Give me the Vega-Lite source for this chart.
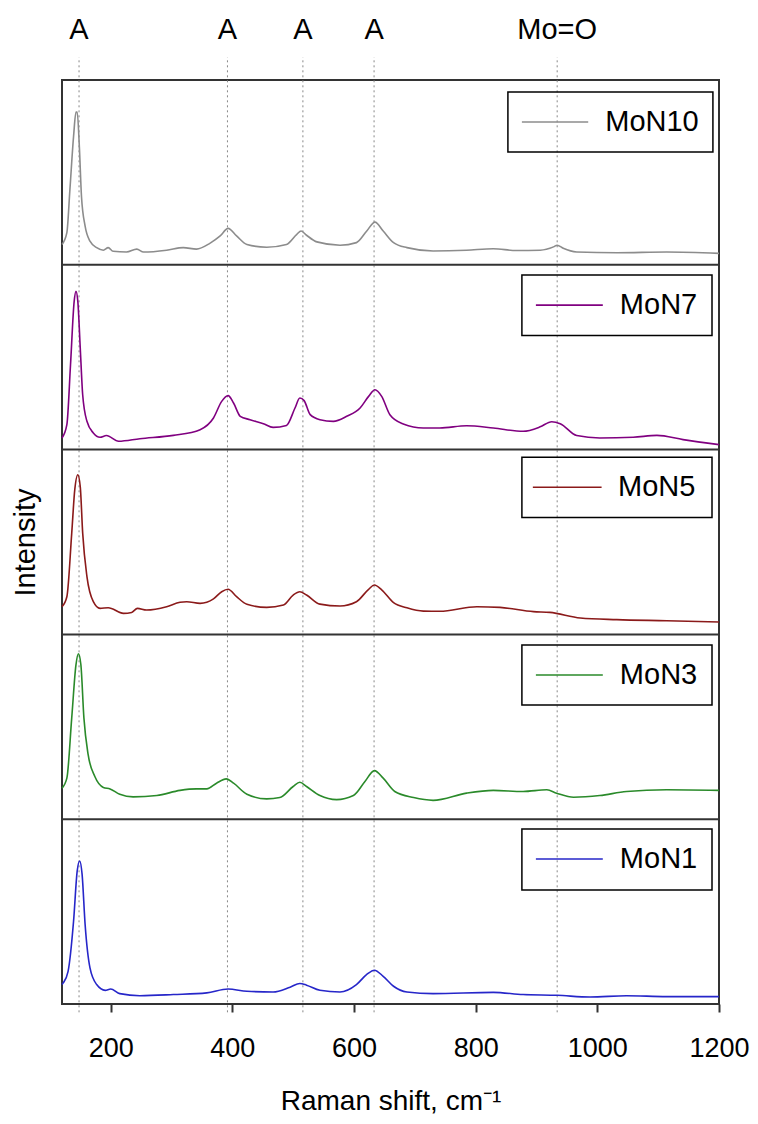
{
  "$schema": "https://vega.github.io/schema/vega-lite/v6.json",
  "width": 657,
  "height": 924,
  "autosize": {"type": "none"},
  "padding": {"left": 62, "top": 80, "right": 39, "bottom": 120},
  "background": "white",
  "config": {
    "font": "Liberation Sans",
    "view": {"stroke": "#333333", "strokeWidth": 2},
    "axis": {"grid": false}
  },
  "datasets": {
    "MoN10": [
      {"x": 120, "y": 11.0}, {"x": 128, "y": 17.4}, {"x": 133, "y": 40.7}, {"x": 139, "y": 69.4},
      {"x": 143, "y": 82.6}, {"x": 145, "y": 82.6}, {"x": 148.5, "y": 64}, {"x": 152, "y": 37.1},
      {"x": 158, "y": 20.9}, {"x": 166, "y": 12.8}, {"x": 177, "y": 9.3}, {"x": 188, "y": 7.9},
      {"x": 196, "y": 9.3}, {"x": 204, "y": 7.3}, {"x": 226, "y": 6.9}, {"x": 243, "y": 8.5},
      {"x": 254, "y": 6.9}, {"x": 292, "y": 7.9}, {"x": 319.5, "y": 9.3}, {"x": 341, "y": 8.5},
      {"x": 363, "y": 11.6}, {"x": 380, "y": 15.6}, {"x": 393, "y": 19.7}, {"x": 407, "y": 15.6},
      {"x": 424, "y": 11.0}, {"x": 456.5, "y": 9.5}, {"x": 489, "y": 11.0}, {"x": 506, "y": 16.5},
      {"x": 513, "y": 18.3}, {"x": 522, "y": 16.0}, {"x": 539, "y": 12.4}, {"x": 577, "y": 10.6},
      {"x": 604, "y": 12.0}, {"x": 621, "y": 18.3}, {"x": 634.5, "y": 23.1}, {"x": 648, "y": 18.3},
      {"x": 665, "y": 12.0}, {"x": 687, "y": 9.3}, {"x": 730, "y": 7.5}, {"x": 785, "y": 7.9},
      {"x": 829, "y": 8.7}, {"x": 867, "y": 7.7}, {"x": 906, "y": 7.9}, {"x": 928, "y": 9.7},
      {"x": 934, "y": 10.6}, {"x": 944, "y": 8.9}, {"x": 966, "y": 6.9}, {"x": 1032, "y": 6.5},
      {"x": 1114, "y": 6.9}, {"x": 1200, "y": 6.2}
    ],
    "MoN7": [
      {"x": 120, "y": 6.3}, {"x": 128, "y": 13.5}, {"x": 134, "y": 45.9}, {"x": 140, "y": 80.2},
      {"x": 143, "y": 85.6}, {"x": 146, "y": 80.2}, {"x": 150, "y": 55.0}, {"x": 154, "y": 29.7},
      {"x": 161, "y": 15.3}, {"x": 171.5, "y": 9.0}, {"x": 182.5, "y": 6.7}, {"x": 193, "y": 7.6},
      {"x": 213, "y": 4.5}, {"x": 248, "y": 5.9}, {"x": 303, "y": 7.7}, {"x": 347, "y": 10.8},
      {"x": 369, "y": 17.1}, {"x": 382.5, "y": 26.1}, {"x": 393, "y": 29.2}, {"x": 402, "y": 25.2},
      {"x": 413, "y": 18.0}, {"x": 429, "y": 16.2}, {"x": 451, "y": 14.0}, {"x": 467, "y": 12.0},
      {"x": 489, "y": 13.1}, {"x": 503, "y": 22.5}, {"x": 511, "y": 27.9}, {"x": 518, "y": 26.5},
      {"x": 528, "y": 18.9}, {"x": 544, "y": 16.2}, {"x": 566, "y": 15.3}, {"x": 588, "y": 18.0},
      {"x": 610, "y": 22.5}, {"x": 624, "y": 28.8}, {"x": 634.5, "y": 32.4}, {"x": 645.5, "y": 28.8},
      {"x": 659, "y": 18.9}, {"x": 681, "y": 13.9}, {"x": 714, "y": 11.7}, {"x": 741, "y": 11.7},
      {"x": 785, "y": 12.9}, {"x": 829, "y": 11.7}, {"x": 878, "y": 9.9}, {"x": 906, "y": 12.3},
      {"x": 925, "y": 15.1}, {"x": 939, "y": 14.0}, {"x": 966, "y": 7.6}, {"x": 1004, "y": 6.3},
      {"x": 1059, "y": 6.7}, {"x": 1098, "y": 7.7}, {"x": 1141, "y": 5.4}, {"x": 1200, "y": 2.7}
    ],
    "MoN5": [
      {"x": 120, "y": 15.0}, {"x": 128, "y": 20.4}, {"x": 136, "y": 54.8}, {"x": 141, "y": 78.3},
      {"x": 146, "y": 86.4}, {"x": 150, "y": 80.0}, {"x": 154, "y": 54.8}, {"x": 161, "y": 31.3},
      {"x": 171.5, "y": 17.7}, {"x": 182.5, "y": 14.1}, {"x": 196, "y": 14.4}, {"x": 221, "y": 11.4},
      {"x": 234.5, "y": 11.9}, {"x": 244, "y": 14.1}, {"x": 259, "y": 13.2}, {"x": 292, "y": 15.0},
      {"x": 314, "y": 17.4}, {"x": 325, "y": 17.7}, {"x": 347, "y": 16.8}, {"x": 369, "y": 19.2},
      {"x": 382.5, "y": 23.1}, {"x": 393, "y": 24.4}, {"x": 407, "y": 20.4}, {"x": 424, "y": 16.3},
      {"x": 456.5, "y": 14.6}, {"x": 484, "y": 15.9}, {"x": 500, "y": 21.3}, {"x": 511, "y": 23.1},
      {"x": 522, "y": 21.3}, {"x": 544, "y": 16.4}, {"x": 577, "y": 15.4}, {"x": 604, "y": 17.7},
      {"x": 624, "y": 24.4}, {"x": 633.5, "y": 26.7}, {"x": 645.5, "y": 24.1}, {"x": 665, "y": 17.2},
      {"x": 687, "y": 14.4}, {"x": 714, "y": 12.6}, {"x": 741, "y": 12.5}, {"x": 802, "y": 15.0},
      {"x": 840, "y": 14.6}, {"x": 895, "y": 12.3}, {"x": 922, "y": 11.9}, {"x": 972, "y": 8.9},
      {"x": 1032, "y": 8.0}, {"x": 1114, "y": 7.4}, {"x": 1200, "y": 6.7}
    ],
    "MoN3": [
      {"x": 120, "y": 16.8}, {"x": 128, "y": 22.2}, {"x": 136, "y": 54.8}, {"x": 143, "y": 83.7},
      {"x": 147, "y": 89.5}, {"x": 151, "y": 83.7}, {"x": 156, "y": 54.8}, {"x": 163, "y": 34.9},
      {"x": 174, "y": 23.1}, {"x": 188, "y": 17.2}, {"x": 199, "y": 16.4}, {"x": 215, "y": 13.5},
      {"x": 237, "y": 12.1}, {"x": 276, "y": 12.8}, {"x": 314, "y": 15.6}, {"x": 341, "y": 16.4},
      {"x": 358, "y": 16.4}, {"x": 374, "y": 19.5}, {"x": 390, "y": 21.8}, {"x": 402, "y": 19.5},
      {"x": 424, "y": 13.5}, {"x": 456.5, "y": 11.0}, {"x": 478, "y": 11.7}, {"x": 500, "y": 17.7},
      {"x": 511, "y": 20.0}, {"x": 522, "y": 17.7}, {"x": 544, "y": 12.8}, {"x": 571.5, "y": 10.6},
      {"x": 599, "y": 12.8}, {"x": 618, "y": 20.4}, {"x": 633.5, "y": 26.3}, {"x": 648, "y": 22.2},
      {"x": 667, "y": 15.0}, {"x": 698, "y": 11.7}, {"x": 730, "y": 10.2}, {"x": 785, "y": 14.1},
      {"x": 829, "y": 15.6}, {"x": 878, "y": 15.0}, {"x": 917, "y": 15.9}, {"x": 933, "y": 14.1},
      {"x": 961, "y": 11.9}, {"x": 1004, "y": 12.8}, {"x": 1048, "y": 15.0}, {"x": 1114, "y": 15.9},
      {"x": 1200, "y": 15.6}
    ],
    "MoN1": [
      {"x": 120, "y": 10.5}, {"x": 122, "y": 11.4}, {"x": 130, "y": 17.7}, {"x": 139, "y": 44.8},
      {"x": 145, "y": 72.0}, {"x": 149, "y": 77.4}, {"x": 153, "y": 70.3}, {"x": 158, "y": 43.0},
      {"x": 166, "y": 19.5}, {"x": 177, "y": 10.5}, {"x": 191, "y": 7.4}, {"x": 200, "y": 8.1},
      {"x": 215, "y": 5.6}, {"x": 248, "y": 4.5}, {"x": 303, "y": 5.1}, {"x": 358, "y": 6.0},
      {"x": 393, "y": 8.1}, {"x": 424, "y": 6.9}, {"x": 467, "y": 6.5}, {"x": 495, "y": 9.1},
      {"x": 511, "y": 11.1}, {"x": 522, "y": 10.2}, {"x": 544, "y": 7.4}, {"x": 577, "y": 6.5},
      {"x": 604, "y": 10.5}, {"x": 621, "y": 16.0}, {"x": 633.5, "y": 18.3}, {"x": 648, "y": 15.0},
      {"x": 665, "y": 9.6}, {"x": 687, "y": 6.5}, {"x": 730, "y": 5.6}, {"x": 829, "y": 6.3},
      {"x": 878, "y": 5.1}, {"x": 934, "y": 4.7}, {"x": 988, "y": 3.8}, {"x": 1048, "y": 4.5},
      {"x": 1114, "y": 4.0}, {"x": 1200, "y": 4.0}
    ],
    "peaks": [
      {"x": 148, "label": "A"}, {"x": 392, "label": "A"}, {"x": 516, "label": "A"},
      {"x": 633, "label": "A"}, {"x": 934, "label": "Mo=O"}
    ]
  },
  "layer": [
    {
      "data": {"name": "peaks"},
      "layer": [
        {
          "mark": {"type": "rule", "color": "#888888", "strokeWidth": 1, "strokeDash": [2, 3]},
          "encoding": {
            "x": {
              "field": "x", "type": "quantitative",
              "scale": {"domain": [120, 1200], "nice": false, "zero": false},
              "axis": {
                "values": [200, 400, 600, 800, 1000, 1200], "format": "d",
                "domain": false, "ticks": true, "tickSize": 8, "tickWidth": 2, "tickColor": "#333333",
                "labelFontSize": 27, "labelColor": "#000000", "labelPadding": 23,
                "labelFlush": false, "labelOverlap": false,
                "title": "Raman shift, cm⁻¹", "titleFontSize": 28, "titleFontWeight": "normal",
                "titleColor": "#000000", "titlePadding": 26
              }
            },
            "y": {
              "datum": -0.045,
              "scale": {"domain": [0, 5], "nice": false, "zero": false},
              "axis": {
                "title": "Intensity", "labels": false, "ticks": false, "domain": false, "grid": false,
                "titleFontSize": 29, "titleFontWeight": "normal", "titleColor": "#000000", "titlePadding": 22
              }
            },
            "y2": {"datum": 5.124}
          }
        },
        {
          "mark": {"type": "text", "fontSize": 29, "align": "center", "baseline": "middle", "color": "#000000"},
          "encoding": {
            "x": {"field": "x", "type": "quantitative"},
            "y": {"datum": 5.27},
            "text": {"field": "label"}
          }
        },
        {"data": {"values": [{}]}, "mark": {"type": "rule", "color": "#333333", "strokeWidth": 2}, "encoding": {"y": {"datum": 1}}},
        {"data": {"values": [{}]}, "mark": {"type": "rule", "color": "#333333", "strokeWidth": 2}, "encoding": {"y": {"datum": 2}}},
        {"data": {"values": [{}]}, "mark": {"type": "rule", "color": "#333333", "strokeWidth": 2}, "encoding": {"y": {"datum": 3}}},
        {"data": {"values": [{}]}, "mark": {"type": "rule", "color": "#333333", "strokeWidth": 2}, "encoding": {"y": {"datum": 4}}}
      ]
    },
    {
      "layer": [
        {
          "data": {"name": "MoN10"},
          "mark": {"type": "line", "color": "#8c8c8c", "strokeWidth": 1.6, "interpolate": "monotone"},
          "encoding": {
            "x": {"field": "x", "type": "quantitative", "scale": {"domain": [120, 1200], "nice": false, "zero": false}},
            "y": {"field": "y", "type": "quantitative", "scale": {"domain": [-400, 100], "nice": false, "zero": false}, "axis": null}
          }
        },
        {
          "data": {"values": [{"sample": "MoN10"}]},
          "mark": {"type": "rect", "fill": "white", "fillOpacity": 0, "stroke": "#000000", "strokeWidth": 1.5},
          "encoding": {"x": {"datum": 853}, "x2": {"datum": 1190}, "y": {"datum": 93.5}, "y2": {"datum": 61}}
        },
        {
          "data": {"values": [{"sample": "MoN10"}]},
          "mark": {"type": "rule", "color": "#8c8c8c", "strokeWidth": 1.6},
          "encoding": {"x": {"datum": 876}, "x2": {"datum": 985}, "y": {"datum": 77.3}}
        },
        {
          "data": {"values": [{"sample": "MoN10"}]},
          "mark": {"type": "text", "fontSize": 29, "align": "left", "baseline": "middle", "color": "#000000"},
          "encoding": {"x": {"datum": 1013}, "y": {"datum": 77.3}, "text": {"field": "sample"}}
        }
      ]
    },
    {
      "layer": [
        {
          "data": {"name": "MoN7"},
          "mark": {"type": "line", "color": "#800080", "strokeWidth": 1.6, "interpolate": "monotone"},
          "encoding": {
            "x": {"field": "x", "type": "quantitative", "scale": {"domain": [120, 1200], "nice": false, "zero": false}},
            "y": {"field": "y", "type": "quantitative", "scale": {"domain": [-300, 200], "nice": false, "zero": false}, "axis": null}
          }
        },
        {
          "data": {"values": [{"sample": "MoN7"}]},
          "mark": {"type": "rect", "fill": "white", "fillOpacity": 0, "stroke": "#000000", "strokeWidth": 1.5},
          "encoding": {"x": {"datum": 876}, "x2": {"datum": 1188.5}, "y": {"datum": 94.5}, "y2": {"datum": 61.8}}
        },
        {
          "data": {"values": [{"sample": "MoN7"}]},
          "mark": {"type": "rule", "color": "#800080", "strokeWidth": 1.6},
          "encoding": {"x": {"datum": 899}, "x2": {"datum": 1009}, "y": {"datum": 78.2}}
        },
        {
          "data": {"values": [{"sample": "MoN7"}]},
          "mark": {"type": "text", "fontSize": 29, "align": "left", "baseline": "middle", "color": "#000000"},
          "encoding": {"x": {"datum": 1037}, "y": {"datum": 78.2}, "text": {"field": "sample"}}
        }
      ]
    },
    {
      "layer": [
        {
          "data": {"name": "MoN5"},
          "mark": {"type": "line", "color": "#8b1a1a", "strokeWidth": 1.6, "interpolate": "monotone"},
          "encoding": {
            "x": {"field": "x", "type": "quantitative", "scale": {"domain": [120, 1200], "nice": false, "zero": false}},
            "y": {"field": "y", "type": "quantitative", "scale": {"domain": [-200, 300], "nice": false, "zero": false}, "axis": null}
          }
        },
        {
          "data": {"values": [{"sample": "MoN5"}]},
          "mark": {"type": "rect", "fill": "white", "fillOpacity": 0, "stroke": "#000000", "strokeWidth": 1.5},
          "encoding": {"x": {"datum": 876}, "x2": {"datum": 1188.5}, "y": {"datum": 95.8}, "y2": {"datum": 63.2}}
        },
        {
          "data": {"values": [{"sample": "MoN5"}]},
          "mark": {"type": "rule", "color": "#8b1a1a", "strokeWidth": 1.6},
          "encoding": {"x": {"datum": 894}, "x2": {"datum": 1007}, "y": {"datum": 79.6}}
        },
        {
          "data": {"values": [{"sample": "MoN5"}]},
          "mark": {"type": "text", "fontSize": 29, "align": "left", "baseline": "middle", "color": "#000000"},
          "encoding": {"x": {"datum": 1034}, "y": {"datum": 79.6}, "text": {"field": "sample"}}
        }
      ]
    },
    {
      "layer": [
        {
          "data": {"name": "MoN3"},
          "mark": {"type": "line", "color": "#2a8a2a", "strokeWidth": 1.6, "interpolate": "monotone"},
          "encoding": {
            "x": {"field": "x", "type": "quantitative", "scale": {"domain": [120, 1200], "nice": false, "zero": false}},
            "y": {"field": "y", "type": "quantitative", "scale": {"domain": [-100, 400], "nice": false, "zero": false}, "axis": null}
          }
        },
        {
          "data": {"values": [{"sample": "MoN3"}]},
          "mark": {"type": "rect", "fill": "white", "fillOpacity": 0, "stroke": "#000000", "strokeWidth": 1.5},
          "encoding": {"x": {"datum": 876}, "x2": {"datum": 1188.5}, "y": {"datum": 94.3}, "y2": {"datum": 61.8}}
        },
        {
          "data": {"values": [{"sample": "MoN3"}]},
          "mark": {"type": "rule", "color": "#2a8a2a", "strokeWidth": 1.6},
          "encoding": {"x": {"datum": 899}, "x2": {"datum": 1009}, "y": {"datum": 78.0}}
        },
        {
          "data": {"values": [{"sample": "MoN3"}]},
          "mark": {"type": "text", "fontSize": 29, "align": "left", "baseline": "middle", "color": "#000000"},
          "encoding": {"x": {"datum": 1037}, "y": {"datum": 78.0}, "text": {"field": "sample"}}
        }
      ]
    },
    {
      "layer": [
        {
          "data": {"name": "MoN1"},
          "mark": {"type": "line", "color": "#2626c9", "strokeWidth": 1.6, "interpolate": "monotone"},
          "encoding": {
            "x": {"field": "x", "type": "quantitative", "scale": {"domain": [120, 1200], "nice": false, "zero": false}},
            "y": {"field": "y", "type": "quantitative", "scale": {"domain": [0, 500], "nice": false, "zero": false}, "axis": null}
          }
        },
        {
          "data": {"values": [{"sample": "MoN1"}]},
          "mark": {"type": "rect", "fill": "white", "fillOpacity": 0, "stroke": "#000000", "strokeWidth": 1.5},
          "encoding": {"x": {"datum": 876}, "x2": {"datum": 1188.5}, "y": {"datum": 94.7}, "y2": {"datum": 61.7}}
        },
        {
          "data": {"values": [{"sample": "MoN1"}]},
          "mark": {"type": "rule", "color": "#2626c9", "strokeWidth": 1.6},
          "encoding": {"x": {"datum": 899}, "x2": {"datum": 1009}, "y": {"datum": 78.5}}
        },
        {
          "data": {"values": [{"sample": "MoN1"}]},
          "mark": {"type": "text", "fontSize": 29, "align": "left", "baseline": "middle", "color": "#000000"},
          "encoding": {"x": {"datum": 1037}, "y": {"datum": 78.5}, "text": {"field": "sample"}}
        }
      ]
    }
  ],
  "resolve": {"scale": {"y": "independent"}, "axis": {"y": "independent"}}
}
